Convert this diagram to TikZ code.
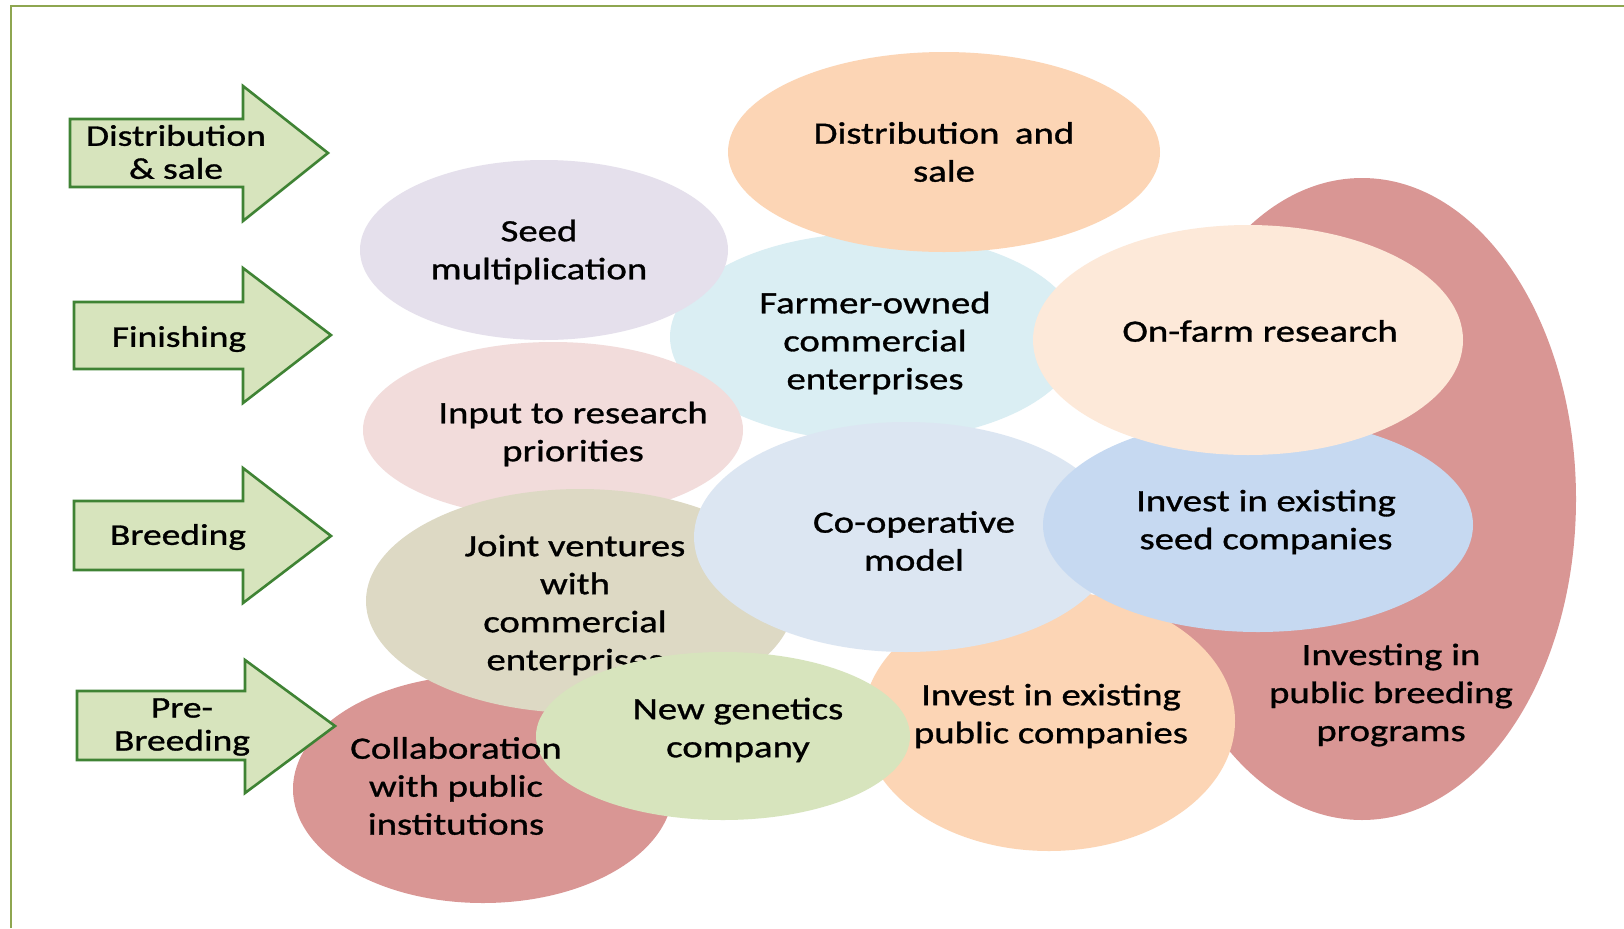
\documentclass[tikz,border=0pt]{standalone}
\usepackage{fontspec}
\setmainfont{Carlito}[FakeStretch=1.25,FakeBold=1]
\usetikzlibrary{shapes.geometric}
\definecolor{cRed}{HTML}{D99694}
\definecolor{cOrange}{HTML}{FCD5B5}
\definecolor{cFarmer}{HTML}{DAEEF3}
\definecolor{cLav}{HTML}{E5E0EC}
\definecolor{cPink}{HTML}{F2DCDB}
\definecolor{cTan}{HTML}{DDD9C4}
\definecolor{cCoop}{HTML}{DCE6F2}
\definecolor{cSeed}{HTML}{C6D9F1}
\definecolor{cFarm}{HTML}{FDE9D9}
\definecolor{cGreen}{HTML}{D7E4BD}
\definecolor{cArrowLine}{HTML}{3F8334}
\definecolor{cFrame}{HTML}{8EA650}
\tikzset{
  blob/.style={ellipse, inner sep=0pt, draw=none},
  lbl/.style={align=center, inner sep=0pt, font=\fontsize{15.5}{19}\selectfont, text=black},
  albl/.style={align=center, inner sep=0pt, font=\fontsize{15}{16.5}\selectfont, text=black},
  arrowbox/.style={fill=cGreen, draw=cArrowLine, line width=1.3pt, line join=miter},
  frameline/.style={draw=cFrame, line width=1pt}
}
\begin{document}
\begin{tikzpicture}[x=0.5pt, y=-0.5pt]
\useasboundingbox (0,0) rectangle (1624,928);
\fill[white] (0,0) rectangle (1624,928);
\draw[frameline] (11,928) -- (11,6) -- (1624,6);

% back to front
\node[blob, fill=cRed, minimum width=214pt, minimum height=321pt] (pubbreed) at (1362,499) {};
\node[lbl] (pubbreed-t) at (1391,695) {Investing in\\public breeding\\programs};

\node[blob, fill=cFarmer, minimum width=205pt, minimum height=104pt] (farmer) at (875,337) {};
\node[lbl] (farmer-t) at (875,343) {Farmer-owned\\commercial\\enterprises};

\node[blob, fill=cOrange, minimum width=216pt, minimum height=100pt] (distr) at (944,152) {};
\node[lbl] (distr-t) at (944,152) {Distribution\enspace and\\sale};

\node[blob, fill=cLav, minimum width=184pt, minimum height=90pt] (seedmult) at (544,250) {};
\node[lbl] (seedmult-t) at (539,252) {Seed\\multiplication};

\node[blob, fill=cPink, minimum width=190pt, minimum height=88pt] (input) at (553,430) {};
\node[lbl] (input-t) at (573,434) {Input to research\\priorities};

\node[blob, fill=cRed, minimum width=190pt, minimum height=114pt] (collab) at (483,789) {};

\node[blob, fill=cTan, minimum width=214pt, minimum height=112pt] (joint) at (580,601) {};
\node[lbl] (joint-t) at (575,605) {Joint ventures\\with\\commercial\\enterprises};

\node[blob, fill=cOrange, minimum width=186pt, minimum height=130pt] (pubcomp) at (1049,721) {};
\node[lbl] (pubcomp-t) at (1051,716) {Invest in existing\\public companies};

\node[blob, fill=cCoop, minimum width=212pt, minimum height=115pt] (coop) at (906,537) {};
\node[lbl] (coop-t) at (914,541) {Co-operative\\model};

\node[blob, fill=cSeed, minimum width=215pt, minimum height=107pt] (seedcomp) at (1258,525) {};
\node[lbl] (seedcomp-t) at (1266,522) {Invest in existing\\seed companies};

\node[blob, fill=cFarm, minimum width=215pt, minimum height=115pt] (onfarm) at (1248,340) {};
\node[lbl] (onfarm-t) at (1260,331) {On-farm research};

\node[blob, fill=cGreen, minimum width=187pt, minimum height=84pt] (newgen) at (723,736) {};
\node[lbl] (newgen-t) at (738,730) {New genetics\\company};

\node[lbl] (collab-t) at (456,786) {Collaboration\\with public\\institutions};

% stage arrows
\draw[arrowbox] (70,119) -- (243,119) -- (243,86) -- (328,153) -- (243,221) -- (243,187) -- (70,187) -- cycle;
\node[albl] (a1-t) at (176,152) {Distribution\\\& sale};
\draw[arrowbox] (74,302) -- (243,302) -- (243,268) -- (331,335) -- (243,403) -- (243,369) -- (74,369) -- cycle;
\node[albl] (a2-t) at (179,339) {Finishing};
\draw[arrowbox] (74,501) -- (243,501) -- (243,468) -- (331,536) -- (243,603) -- (243,570) -- (74,570) -- cycle;
\node[albl] (a3-t) at (178,537) {Breeding};
\draw[arrowbox] (77,691) -- (245,691) -- (245,660) -- (335,726) -- (245,793) -- (245,760) -- (77,760) -- cycle;
\node[albl] (a4-t) at (182,727) {Pre-\\Breeding};
\end{tikzpicture}
\end{document}
